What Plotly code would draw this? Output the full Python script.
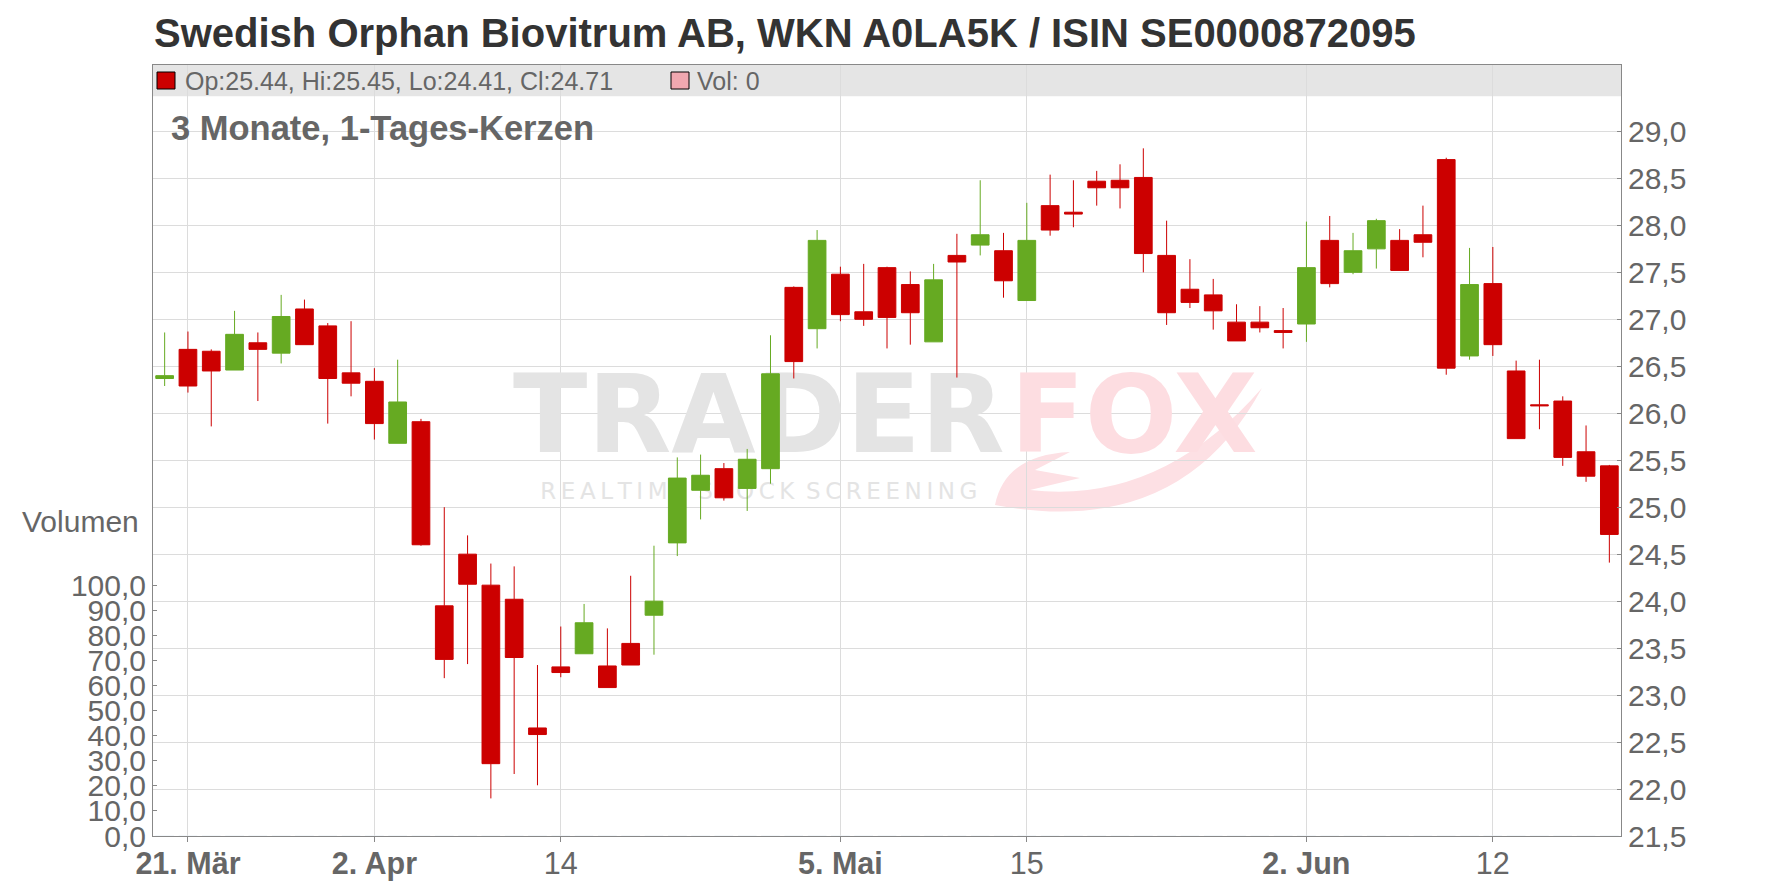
import plotly.graph_objects as go

# ---------------- data ----------------
dates = [
    "2025-03-20", "2025-03-21", "2025-03-24", "2025-03-25", "2025-03-26", "2025-03-27", "2025-03-28",
    "2025-03-31", "2025-04-01", "2025-04-02", "2025-04-03", "2025-04-04", "2025-04-07", "2025-04-08",
    "2025-04-09", "2025-04-10", "2025-04-11", "2025-04-14", "2025-04-15", "2025-04-16", "2025-04-17",
    "2025-04-22", "2025-04-23", "2025-04-24", "2025-04-25", "2025-04-28", "2025-04-29", "2025-04-30",
    "2025-05-02", "2025-05-05", "2025-05-06", "2025-05-07", "2025-05-08", "2025-05-09", "2025-05-12",
    "2025-05-13", "2025-05-14", "2025-05-15", "2025-05-16", "2025-05-19", "2025-05-20", "2025-05-21",
    "2025-05-22", "2025-05-23", "2025-05-26", "2025-05-27", "2025-05-28", "2025-05-29", "2025-05-30",
    "2025-06-02", "2025-06-03", "2025-06-04", "2025-06-05", "2025-06-06", "2025-06-09", "2025-06-10",
    "2025-06-11", "2025-06-12", "2025-06-13", "2025-06-16", "2025-06-17", "2025-06-18", "2025-06-19",
]

open_ = [26.37, 26.68, 26.66, 26.46, 26.75, 26.64, 27.11, 26.93, 26.43, 26.34,
         25.68, 25.91, 23.95, 24.50, 24.17, 24.02, 22.65, 23.30, 23.44, 23.31,
         23.55, 23.85, 24.62, 25.18, 25.41, 25.20, 25.41, 27.34, 26.90, 27.48,
         27.08, 27.55, 27.37, 26.76, 27.68, 27.79, 27.73, 27.20, 28.21, 28.14,
         28.47, 28.48, 28.51, 27.68, 27.32, 27.26, 26.97, 26.97, 26.88, 26.95,
         27.84, 27.50, 27.75, 27.84, 27.90, 28.70, 26.61, 27.38, 26.45, 26.09,
         26.13, 25.59, 25.44]
high = [26.86, 26.87, 26.68, 27.09, 26.86, 27.26, 27.21, 26.96, 26.98, 26.48,
        26.57, 25.94, 25.00, 24.70, 24.40, 24.37, 23.32, 23.73, 23.97, 23.71,
        24.27, 24.59, 25.53, 25.56, 25.47, 25.62, 26.83, 27.35, 27.95, 27.56,
        27.59, 27.56, 27.51, 27.59, 27.91, 28.48, 27.92, 28.24, 28.54, 28.48,
        28.58, 28.65, 28.82, 28.05, 27.64, 27.43, 27.16, 27.14, 27.12, 28.04,
        28.10, 27.92, 28.07, 27.96, 28.21, 28.72, 27.76, 27.77, 26.56, 26.57,
        26.18, 25.87, 25.45]
low = [26.29, 26.22, 25.86, 26.46, 26.13, 26.53, 26.73, 25.89, 26.18, 25.72,
       25.68, 24.59, 23.18, 23.33, 21.90, 22.16, 22.04, 23.19, 23.44, 23.08,
       23.32, 23.43, 24.48, 24.87, 25.07, 24.96, 25.25, 26.37, 26.69, 26.98,
       26.93, 26.69, 26.73, 26.76, 26.38, 27.68, 27.23, 27.20, 27.89, 27.98,
       28.21, 28.18, 27.50, 26.94, 27.12, 26.89, 26.77, 26.86, 26.69, 26.76,
       27.34, 27.48, 27.54, 27.52, 27.66, 26.41, 26.57, 26.61, 25.73, 25.83,
       25.44, 25.27, 24.41]
close = [26.40, 26.29, 26.45, 26.84, 26.68, 27.03, 26.73, 26.37, 26.32, 25.89,
         26.12, 24.60, 23.38, 24.18, 22.27, 23.40, 22.58, 23.24, 23.77, 23.08,
         23.32, 24.00, 25.31, 25.34, 25.10, 25.51, 26.42, 26.55, 27.84, 27.05,
         27.00, 27.02, 27.07, 27.42, 27.61, 27.90, 27.41, 27.84, 27.95, 28.12,
         28.40, 28.40, 27.70, 27.07, 27.18, 27.09, 26.77, 26.91, 26.86, 27.55,
         27.38, 27.73, 28.05, 27.52, 27.82, 26.48, 27.37, 26.73, 25.73, 26.08,
         25.53, 25.33, 24.71]
volume = [0, 0, 0, 0, 0, 0, 0, 0, 0, 0, 0, 0, 0, 0, 0, 0, 0, 0, 0, 0, 0,
          0, 0, 0, 0, 0, 0, 0, 0, 0, 0, 0, 0, 0, 0, 0, 0, 0, 0, 0, 0, 0,
          0, 0, 0, 0, 0, 0, 0, 0, 0, 0, 0, 0, 0, 0, 0, 0, 0, 0, 0, 0, 0]

x_tick_dates = ["2025-03-21", "2025-04-02", "2025-04-14", "2025-05-05", "2025-05-15", "2025-06-02", "2025-06-12"]
x_tick_labels = ["<b>21. Mär</b>", "<b>2. Apr</b>", "14", "<b>5. Mai</b>", "15", "<b>2. Jun</b>", "12"]
price_ticks = [21.5, 22.0, 22.5, 23.0, 23.5, 24.0, 24.5, 25.0, 25.5, 26.0, 26.5, 27.0, 27.5, 28.0, 28.5, 29.0]
volume_ticks = [0, 10, 20, 30, 40, 50, 60, 70, 80, 90, 100]

title_text = "Swedish Orphan Biovitrum AB, WKN A0LA5K / ISIN SE0000872095"
subtitle_text = "3 Monate, 1-Tages-Kerzen"
ohlc_text = "Op:25.44, Hi:25.45, Lo:24.41, Cl:24.71"
vol_text = "Vol: 0"

# ---------------- figure ----------------
x_idx = list(range(len(dates)))
tick_idx = [dates.index(d) for d in x_tick_dates]

FONT = "Liberation Sans, Arial, sans-serif"
GRAY = "#666666"
RED = "#cc0000"
GREEN = "#66aa22"

# page is rendered with the browser's 8px body margin -> figure is 8px smaller
OFF = 8
W, H = 1776 - OFF, 888 - OFF
L, R, T, B = 145, 155, 57, 52
pw, ph = W - L - R, H - T - B


def px(xpage):
    return (xpage - OFF - L) / pw


def py(ypage):
    return (H - B - (ypage - OFF)) / ph


fig = go.Figure()

# watermark (main subplot, drawn beneath the overlaid candles)
wm_font = "DejaVu Sans, Liberation Sans, sans-serif"
fig.add_trace(go.Scatter(x=[25.5], y=[0.533], mode="text", text=["TRADER"],
                         textfont=dict(family=wm_font, size=109, color="#e4e4e4", weight="bold"),
                         textposition="middle center", hoverinfo="skip"))
fig.add_trace(go.Scatter(x=[41.6], y=[0.533], mode="text", text=["FOX"],
                         textfont=dict(family=wm_font, size=109, color="#fddde1", weight="bold"),
                         textposition="middle center", hoverinfo="skip"))
sp = "\u2009"
wm_sub = (sp.join("REALTIME") + "\u2002" + sp.join("STOCK") + "\u2002" + sp.join("SCREENING"))
fig.add_trace(go.Scatter(x=[25.5], y=[0.444], mode="text", text=[wm_sub],
                         textfont=dict(family=wm_font, size=23, color="#e4e4e4"),
                         textposition="middle center", hoverinfo="skip"))

# volume (all zero)
fig.add_trace(go.Bar(x=x_idx, y=volume, yaxis="y3", marker_color="#f0a8b0", hoverinfo="skip"))

# candles
fig.add_trace(go.Candlestick(
    x=x_idx, open=open_, high=high, low=low, close=close, yaxis="y2",
    text=dates,
    increasing=dict(line=dict(color=GREEN, width=1), fillcolor=GREEN),
    decreasing=dict(line=dict(color=RED, width=1), fillcolor=RED),
    whiskerwidth=0,
))

fig.update_layout(
    width=W, height=H,
    margin=dict(l=L, r=R, t=T, b=B, pad=0, autoexpand=False),
    paper_bgcolor="white", plot_bgcolor="white",
    showlegend=False,
    boxgap=0.24, boxgroupgap=0,
    font=dict(family=FONT, color=GRAY),
    xaxis=dict(range=[-0.5, 62.5], tickvals=tick_idx, ticktext=x_tick_labels,
               showgrid=True, gridcolor="#dcdcdc", gridwidth=1,
               ticks="outside", ticklen=5, tickcolor="#888888",
               showline=True, linecolor="#888888", linewidth=1, mirror=True,
               zeroline=False, automargin=False, ticklabelstandoff=-5,
               tickfont=dict(size=30.5, color=GRAY, family=FONT),
               rangeslider=dict(visible=False)),
    yaxis=dict(range=[0, 1], visible=False, fixedrange=True),
    yaxis2=dict(overlaying="y", side="right", range=[21.5, 29.707],
                tickvals=price_ticks, ticktext=[f"{v:.1f}".replace(".", ",") for v in price_ticks],
                showgrid=True, gridcolor="#dcdcdc", gridwidth=1,
                ticks="inside", ticklen=4, tickcolor="#888888",
                showline=True, linecolor="#888888", linewidth=1,
                zeroline=False, automargin=False,
                tickfont=dict(size=30, color=GRAY, family=FONT)),
    yaxis3=dict(overlaying="y", side="left", range=[0, 307.2],
                tickvals=volume_ticks, ticktext=[f"{v:.1f}".replace(".", ",") for v in volume_ticks],
                showgrid=False, ticks="inside", ticklen=4, tickcolor="#888888",
                showline=True, linecolor="#888888", linewidth=1,
                zeroline=False, automargin=False,
                tickfont=dict(size=30, color=GRAY, family=FONT)),
)

shapes = [
    # header band
    dict(type="rect", xref="paper", yref="paper", x0=0, x1=1, y0=py(96.3), y1=1,
         fillcolor="#e5e5e5", line=dict(width=0), layer="below"),
    # legend squares
    dict(type="rect", xref="paper", yref="paper", x0=px(157), x1=px(175), y0=py(89), y1=py(72),
         fillcolor=RED, line=dict(color="black", width=1), layer="above"),
    dict(type="rect", xref="paper", yref="paper", x0=px(671), x1=px(689), y0=py(89), y1=py(72),
         fillcolor="#f0a8b0", line=dict(color="black", width=1), layer="above"),
    # fox tail swirl of the watermark
    dict(type="path", xref="paper", yref="paper", layer="below",
         path=(f"M {px(995)},{py(505)} Q {px(1005)},{py(455)} {px(1070)},{py(452)} "
               f"L {px(1035)},{py(470)} L {px(1080)},{py(478)} L {px(1030)},{py(490)} "
               f"Q {px(1160)},{py(505)} {px(1262)},{py(388)} "
               f"Q {px(1180)},{py(540)} {px(995)},{py(505)} Z"),
         fillcolor="#fde0e4", line=dict(width=0)),
]
fig.update_layout(shapes=shapes)

annotations = [
    dict(text=f"<b>{title_text}</b>", xref="paper", yref="paper", x=px(152), y=py(33),
         xanchor="left", yanchor="middle", showarrow=False,
         font=dict(size=40, color="#333333", family=FONT)),
    dict(text=f"<b>{subtitle_text}</b>", xref="paper", yref="paper", x=px(169), y=py(128),
         xanchor="left", yanchor="middle", showarrow=False,
         font=dict(size=34.5, color=GRAY, family=FONT)),
    dict(text=ohlc_text, xref="paper", yref="paper", x=px(183), y=py(81),
         xanchor="left", yanchor="middle", showarrow=False,
         font=dict(size=25, color=GRAY, family=FONT)),
    dict(text=vol_text, xref="paper", yref="paper", x=px(695), y=py(81),
         xanchor="left", yanchor="middle", showarrow=False,
         font=dict(size=25, color=GRAY, family=FONT)),
    dict(text="Volumen", xref="paper", yref="paper", x=px(80), y=py(521),
         xanchor="center", yanchor="middle", showarrow=False,
         font=dict(size=30, color=GRAY, family=FONT)),
]
fig.update_layout(annotations=annotations)

fig.write_html("out.html")
